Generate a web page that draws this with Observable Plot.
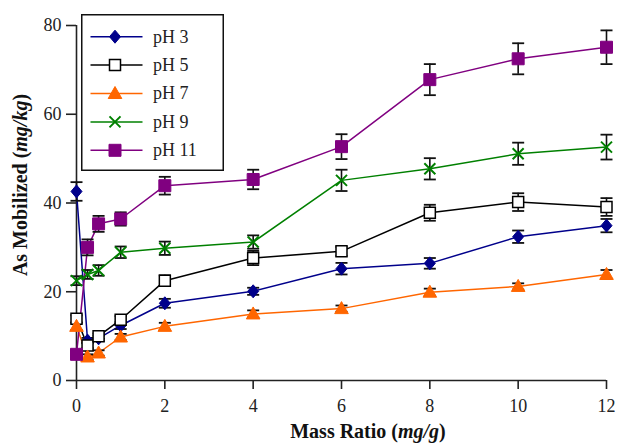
<!DOCTYPE html>
<html>
<head>
<meta charset="utf-8">
<script src="https://cdn.jsdelivr.net/npm/d3@7"></script>
<script src="https://cdn.jsdelivr.net/npm/@observablehq/plot@0.6"></script>
<style>
  html, body { margin: 0; padding: 0; background: white; }
  #wrap { position: relative; width: 617px; height: 445px; }
  #legend { position: absolute; left: 81px; top: 14px; }
</style>
</head>
<body>
<div id="wrap"><div id="chart"></div><div id="legend"></div></div>
<script>
// ---- data ----
const massRatio = [0, 0.25, 0.5, 1, 2, 4, 6, 8, 10, 12];
const xTicks = [0, 2, 4, 6, 8, 10, 12];
const yTicks = [0, 20, 40, 60, 80];
const seriesNames = ["pH 3", "pH 5", "pH 7", "pH 9", "pH 11"];
const ph3  = [42.6, 9.0, 9.5, 12.4, 17.4, 20.1, 25.2, 26.4, 32.4, 34.9];
const ph5  = [13.9, 7.9, 10.0, 13.7, 22.5, 27.6, 29.1, 37.8, 40.2, 39.1];
const ph7  = [12.2, 5.3, 6.2, 9.8, 12.2, 15.0, 16.2, 19.9, 21.2, 23.9];
const ph9  = [22.5, 23.9, 24.8, 28.9, 29.8, 31.2, 45.1, 47.7, 51.1, 52.6];
const ph11 = [5.9, 30.0, 35.3, 36.4, 43.9, 45.3, 52.7, 67.8, 72.5, 75.1];
const ph3Err  = [2.1, 0.6, 0.6, 0.8, 1.0, 0.8, 1.3, 1.2, 1.4, 1.5];
const ph5Err  = [0.8, 0.6, 0.6, 0.8, 1.2, 1.6, 1.0, 1.8, 2.0, 2.0];
const ph7Err  = [0.8, 0.6, 0.6, 0.7, 0.8, 0.8, 0.7, 0.8, 0.7, 1.0];
const ph9Err  = [1.0, 1.0, 1.2, 1.3, 1.5, 1.5, 2.4, 2.4, 2.5, 2.8];
const ph11Err = [0.6, 1.8, 1.8, 1.5, 2.0, 2.2, 2.8, 3.5, 3.5, 3.8];
const seriesValues = [ph3, ph5, ph7, ph9, ph11];
const seriesErrors = [ph3Err, ph5Err, ph7Err, ph9Err, ph11Err];
const seriesColors = ["#00008b", "#000000", "#ff6600", "#008000", "#800080"];

// ---- symbols ----
const symDiamond = {draw(c) { c.moveTo(0, -6.5); c.lineTo(5.5, 0); c.lineTo(0, 6.5); c.lineTo(-5.5, 0); c.closePath(); }};
const symSquareOpen = {draw(c) { c.rect(-5.5, -5.5, 11, 11); }};
const symTriangle = {draw(c) { c.moveTo(0, -7); c.lineTo(6.8, 5); c.lineTo(-6.8, 5); c.closePath(); }};
const symTimes = {draw(c) { c.moveTo(-5.5, -5.5); c.lineTo(5.5, 5.5); c.moveTo(5.5, -5.5); c.lineTo(-5.5, 5.5); }};
const symSquare = {draw(c) { c.rect(-6, -6, 12, 12); }};
const symCap = {draw(c) { c.moveTo(-6, 0); c.lineTo(6, 0); }};
const markerStyles = [
  {symbol: symDiamond, fill: "#00008b", stroke: "#00008b", strokeWidth: 1},
  {symbol: symSquareOpen, fill: "white", stroke: "black", strokeWidth: 1.5},
  {symbol: symTriangle, fill: "#ff6600", stroke: "#ff6600", strokeWidth: 1},
  {symbol: symTimes, fill: "none", stroke: "#008000", strokeWidth: 2},
  {symbol: symSquare, fill: "#800080", stroke: "#800080", strokeWidth: 1}
];

const rows = [];
seriesNames.forEach((name, i) => {
  massRatio.forEach((x, j) => rows.push({series: name, idx: i, x, y: seriesValues[i][j], e: seriesErrors[i][j]}));
});

const serif = "'Liberation Serif', 'Times New Roman', serif";
const marks = [
  Plot.ruleY([0], {stroke: "#222", strokeWidth: 1.6}),
  Plot.ruleX([0], {stroke: "#222", strokeWidth: 1.6}),
  Plot.axisX({ticks: xTicks, tickSize: 9, tickPadding: 10, strokeWidth: 1.6, stroke: "#222", label: null, fill: "#222", fontSize: 18, fontFamily: serif}),
  Plot.axisY({ticks: yTicks, tickSize: 10, tickPadding: 5, strokeWidth: 1.6, stroke: "#222", label: null, fill: "#222", fontSize: 18, fontFamily: serif})
];
seriesNames.forEach((name, i) => {
  marks.push(Plot.line(rows.filter(d => d.idx === i), {x: "x", y: "y", stroke: seriesColors[i], strokeWidth: 1.5}));
});
marks.push(Plot.ruleX(rows, {x: "x", y1: d => d.y - d.e, y2: d => d.y + d.e, stroke: "#111", strokeWidth: 1.6}));
marks.push(Plot.dot(rows, {x: "x", y: d => d.y - d.e, symbol: symCap, fill: "none", stroke: "#111", strokeWidth: 1.8}));
marks.push(Plot.dot(rows, {x: "x", y: d => d.y + d.e, symbol: symCap, fill: "none", stroke: "#111", strokeWidth: 1.8}));
seriesNames.forEach((name, i) => {
  marks.push(Plot.dot(rows.filter(d => d.idx === i), {x: "x", y: "y", ...markerStyles[i]}));
});

const chart = Plot.plot({
  width: 617, height: 445,
  marginLeft: 76, marginRight: 11, marginTop: 25, marginBottom: 65,
  x: {domain: [0, 12]},
  y: {domain: [0, 80]},
  style: {fontFamily: serif, fontSize: "18px", background: "white", color: "#222"},
  marks
});
document.getElementById("chart").appendChild(chart);

const svg = d3.select(chart);
// make sure tick labels use the intended size
svg.selectAll("g[aria-label='x-axis tick label'], g[aria-label='y-axis tick label']")
  .attr("font-size", 18).style("font-size", "18px").attr("font-family", serif);

// axis titles with mixed styling
const xt = svg.append("text").attr("x", 368).attr("y", 438).attr("text-anchor", "middle")
  .style("font-family", serif).style("font-size", "20px").style("font-weight", "bold").attr("fill", "#111");
xt.append("tspan").text("Mass Ratio (");
xt.append("tspan").style("font-style", "italic").text("mg/g");
xt.append("tspan").text(")");
const yt = svg.append("text").attr("transform", "translate(27,185) rotate(-90)").attr("text-anchor", "middle")
  .style("font-family", serif).style("font-size", "20px").style("font-weight", "bold").attr("fill", "#111");
yt.append("tspan").text("As Mobilized (");
yt.append("tspan").style("font-style", "italic").text("mg/kg");
yt.append("tspan").text(")");

// legend
const lg = d3.select("#legend").append("svg").attr("width", 144).attr("height", 158);
lg.append("rect").attr("x", 0.75).attr("y", 0.75).attr("width", 141.5).attr("height", 155.5)
  .attr("fill", "white").attr("stroke", "#111").attr("stroke-width", 1.5);
seriesNames.forEach((name, i) => {
  const cy = 22.7 + i * 28.4;
  const g = lg.append("g");
  g.append("line").attr("x1", 9.5).attr("x2", 61.5).attr("y1", cy).attr("y2", cy)
    .attr("stroke", seriesColors[i]).attr("stroke-width", 1.5);
  const ms = markerStyles[i];
  const p = d3.path();
  ms.symbol.draw(p);
  g.append("path").attr("d", p.toString()).attr("transform", `translate(34,${cy})`)
    .attr("fill", ms.fill).attr("stroke", ms.stroke).attr("stroke-width", ms.strokeWidth);
  g.append("text").attr("x", 72).attr("y", cy).attr("dy", "0.33em")
    .style("font-family", serif).style("font-size", "18px").attr("fill", "#222").text(name);
});
</script>
</body>
</html>
